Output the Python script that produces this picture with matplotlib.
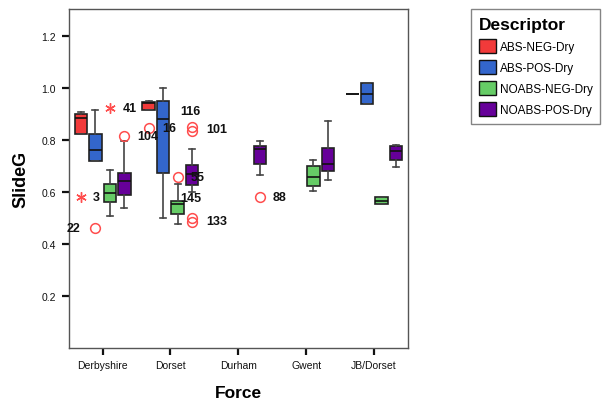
import matplotlib
matplotlib.use('Agg')
import matplotlib.pyplot as plt
from matplotlib.patches import Patch

plt.rcParams['font.family'] = ['Liberation Sans', 'DejaVu Sans']

categories = ['Derbyshire', 'Dorset', 'Durham', 'Gwent', 'JB/Dorset']
series = ['ABS-NEG-Dry', 'ABS-POS-Dry', 'NOABS-NEG-Dry', 'NOABS-POS-Dry']
colors = ['#F23A3A', '#3366CC', '#66CC66', '#660099']

# (whisker low, Q1, median, Q3, whisker high) per force; None = no data
abs_neg = [(0.822, 0.822, 0.885, 0.900, 0.909),
           (0.913, 0.913, 0.940, 0.944, 0.949),
           None, None,
           (0.975, 0.975, 0.975, 0.975, 0.975)]
abs_pos = [(0.719, 0.719, 0.760, 0.822, 0.913),
           (0.498, 0.673, 0.880, 0.948, 0.999),
           None, None,
           (0.936, 0.936, 0.975, 1.017, 1.017)]
noabs_neg = [(0.508, 0.560, 0.596, 0.632, 0.683),
             (0.478, 0.514, 0.553, 0.564, 0.632),
             None,
             (0.605, 0.623, 0.659, 0.700, 0.721),
             (0.552, 0.552, 0.566, 0.582, 0.582)]
noabs_pos = [(0.540, 0.589, 0.642, 0.672, 0.796),
             (0.600, 0.627, 0.668, 0.704, 0.763),
             (0.664, 0.709, 0.764, 0.777, 0.796),
             (0.646, 0.682, 0.708, 0.768, 0.872),
             (0.696, 0.723, 0.759, 0.776, 0.781)]
summaries = [abs_neg, abs_pos, noabs_neg, noabs_pos]

# outlier points: (force index, series index, value, marker)
outliers = [(0, 0, 0.580, '*'), (0, 1, 0.460, 'o'), (0, 2, 0.921, '*'),
            (0, 3, 0.813, 'o'), (1, 0, 0.846, 'o'), (1, 2, 0.659, 'o'),
            (1, 3, 0.849, 'o'), (1, 3, 0.834, 'o'), (1, 3, 0.499, 'o'),
            (1, 3, 0.483, 'o'), (2, 3, 0.582, 'o')]
# case labels: (force index, series index, value, text, offset in points)
case_labels = [(0, 0, 0.580, '3', 8.5), (0, 1, 0.460, '22', -10.5),
               (0, 2, 0.921, '41', 9.0), (0, 3, 0.813, '104', 9.0),
               (1, 0, 0.846, '16', 10.0), (1, 1, 0.911, '116', 12.6),
               (1, 1, 0.578, '145', 12.6), (1, 2, 0.659, '55', 9.5),
               (1, 3, 0.841, '101', 10.0), (1, 3, 0.490, '133', 10.0),
               (2, 3, 0.582, '88', 9.0)]

offsets = [-0.32, -0.107, 0.107, 0.32]
box_w = 0.184

fig = plt.figure(figsize=(6.04, 4.02), dpi=100)
ax = fig.add_axes([68.6 / 604, 1 - 349 / 402, (408 - 68.6) / 604, (349 - 10) / 402])

for si, (summ, col) in enumerate(zip(summaries, colors)):
    stats, pos = [], []
    for ci, s in enumerate(summ):
        if s is None:
            continue
        lo, q1, med, q3, hi = s
        stats.append(dict(whislo=lo, q1=q1, med=med, q3=q3, whishi=hi, fliers=[]))
        pos.append(ci + offsets[si])
    ax.bxp(stats, positions=pos, widths=box_w, patch_artist=True,
           showfliers=False, capwidths=0.09,
           boxprops=dict(facecolor=col, edgecolor='#222222', linewidth=1.2),
           medianprops=dict(color='#111111', linewidth=1.2),
           whiskerprops=dict(color='#444444', linewidth=1.2),
           capprops=dict(color='#444444', linewidth=1.2),
           manage_ticks=False, zorder=2)

for ci, si, v, m in outliers:
    x = ci + offsets[si]
    if m == 'o':
        ax.plot(x, v, marker='o', mfc='none', mec='#FF4D4D', ms=7, mew=1.1,
                ls='none', zorder=3)
    else:
        ax.plot(x, v, marker=(6, 2, 0), color='#FF4D4D', ms=7.5, mew=1.0,
                ls='none', zorder=3)

for ci, si, v, t, dx in case_labels:
    x = ci + offsets[si]
    ax.annotate(t, (x, v), xytext=(dx, 0), textcoords='offset points',
                ha='left' if dx > 0 else 'right', va='center',
                fontsize=9, fontweight='bold', color='#111111', zorder=4)

ax.set_xlim(-0.5, 4.5)
ax.set_ylim(0, 1.303)
ax.set_xticks(range(len(categories)))
ax.set_xticklabels(categories)
ax.set_yticks([0.2, 0.4, 0.6, 0.8, 1.0, 1.2])
ax.set_yticklabels(['0.2', '0.4', '0.6', '0.8', '1.0', '1.2'])
ax.tick_params(direction='out', length=5, width=1.6, labelsize=7.5,
               color='#111111', labelcolor='#111111', pad=4)
for sp in ax.spines.values():
    sp.set_color('#555555')
    sp.set_linewidth(1.0)

ax.set_ylabel('SlideG', fontsize=13, fontweight='bold')
ax.yaxis.set_label_coords(-0.114, 0.5)
ax.set_xlabel('Force', fontsize=12.5, fontweight='bold', va='center')
ax.xaxis.set_label_coords(0.5, -0.13)

handles = [Patch(facecolor=c, edgecolor='#111111', linewidth=1.0, label=l)
           for c, l in zip(colors, series)]
leg = fig.legend(handles=handles, loc='upper left',
                 bbox_to_anchor=(471 / 604, 1 - 10 / 402), frameon=True,
                 fancybox=False, fontsize=8.5, title='Descriptor',
                 title_fontproperties=dict(size=12.5, weight='bold'),
                 handlelength=1.45, handleheight=1.45, handletextpad=0.35,
                 labelspacing=0.6, borderpad=0.65, borderaxespad=0)
leg.get_frame().set_edgecolor('#666666')
leg.get_frame().set_linewidth(1.0)
leg._legend_box.align = 'left'

fig.savefig('out.png', dpi=100)
